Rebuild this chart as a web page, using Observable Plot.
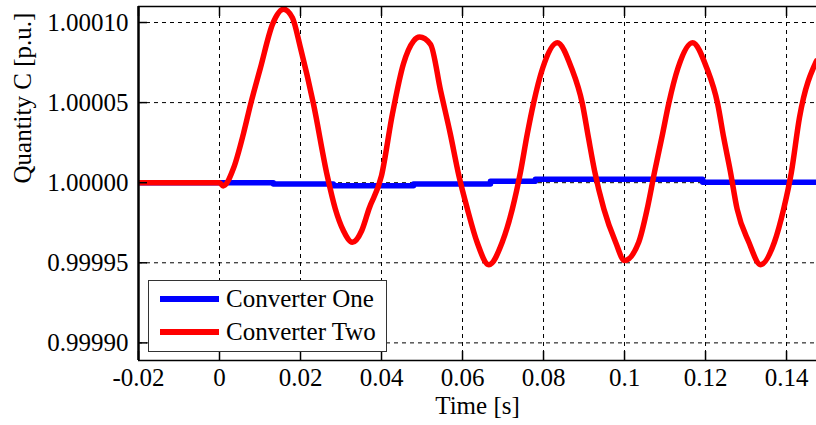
<!DOCTYPE html>
<html>
<head>
<meta charset="utf-8">
<script src="https://cdn.jsdelivr.net/npm/d3@7"></script>
<script src="https://cdn.jsdelivr.net/npm/@observablehq/plot@0.6"></script>
<style>
  html, body { margin: 0; padding: 0; background: #fff; }
  #wrap { position: relative; width: 816px; height: 425px; }
  #legend {
    position: absolute; left: 148px; top: 280px; width: 237px; height: 70px;
    border: 1.5px solid #333; background: #fff;
    font-family: "Liberation Serif", "Times New Roman", serif; font-size: 25px; color: #000;
  }
  .row { position: absolute; left: 0; display: flex; align-items: center; }
  .swatch { width: 59px; height: 5.5px; margin-left: 11px; margin-right: 7px; }
</style>
</head>
<body>
<div id="wrap"></div>
<script>
// ---- data ----
const seriesNames = ["Converter One", "Converter Two"];
const seriesColors = ["#0000ff", "#ff0000"];

const timeOne = [-0.02, 0.0, 0.0133, 0.0281, 0.0479, 0.0669, 0.078, 0.1193, 0.1474];
const valueOne = [1.0, 1.0, 0.9999992, 0.9999981, 0.9999992, 1.0000009, 1.0000022, 1.0000003, 1.0000003];

const timeTwo = [
  -0.02, 0.0, 0.0009, 0.0035, 0.0059, 0.0077, 0.0101, 0.0131, 0.0158, 0.018, 0.02, 0.0232,
  0.0266, 0.0286, 0.0306, 0.0328, 0.0351, 0.0369, 0.04,
  0.0427, 0.0454, 0.0479, 0.0494, 0.0521, 0.0546, 0.057,
  0.0591, 0.0612, 0.0636, 0.0665, 0.0698, 0.0723, 0.0743,
  0.076, 0.0775, 0.0798, 0.0834, 0.0869, 0.0896, 0.0911,
  0.0926, 0.0949, 0.0978, 0.1, 0.1035, 0.1056, 0.1074,
  0.1094, 0.1109, 0.1132, 0.1168, 0.1203, 0.123, 0.1245,
  0.1261, 0.1278, 0.1307, 0.1336, 0.137, 0.1393, 0.1412,
  0.1432, 0.1474
];
const valueTwo = [
  1.0, 1.0, 0.999998, 1.0000093, 1.0000305, 1.0000492, 1.0000716, 1.000099, 1.0001083, 1.000103, 1.0000841, 1.0000492,
  1.0000044, 0.9999836, 0.99997, 0.9999628, 0.99997, 0.9999836, 1.0000044,
  1.000043, 1.0000741, 1.0000884, 1.0000909, 1.0000864, 1.0000573, 1.0000303,
  1.0000044, 0.9999836, 0.9999628, 0.9999488, 0.9999628, 0.9999836, 1.0000065,
  1.0000305, 1.0000492, 1.0000716, 1.0000874, 1.0000716, 1.0000492, 1.000028,
  1.0000075, 0.9999836, 0.9999628, 0.9999514, 0.9999628, 0.9999836, 1.0000065,
  1.0000305, 1.0000492, 1.0000716, 1.0000874, 1.0000716, 1.0000492, 1.000028,
  1.0000075, 0.9999836, 0.9999628, 0.9999488, 0.9999628, 0.9999836, 1.0000065,
  1.0000407, 1.000076
];

const xTicks = [-0.02, 0, 0.02, 0.04, 0.06, 0.08, 0.1, 0.12, 0.14];
const yTicks = [0.9999, 0.99995, 1.0, 1.00005, 1.0001];
const xDomain = [-0.02, 0.1474];
const yDomain = [0.999889, 1.00011];
const xLabel = "Time [s]";
const yLabel = "Quantity C [p.u.]";

// ---- build ----
const one = timeOne.map((t, i) => ({t, v: valueOne[i]}));
const two = timeTwo.map((t, i) => ({t, v: valueTwo[i]}));
const fmtX = d => String(+d.toFixed(2));
const fmtY = d3.format(".5f");
const FONT = "'Liberation Serif', 'Times New Roman', serif";

const chart = Plot.plot({
  width: 816,
  height: 425,
  marginLeft: 138,
  marginRight: 0,
  marginTop: 6,
  marginBottom: 65,
  style: {fontFamily: FONT, fontSize: "25px", color: "#000", background: "#fff"},
  x: {domain: xDomain},
  y: {domain: yDomain},
  marks: [
    Plot.gridX(xTicks, {stroke: "#000", strokeOpacity: 1, strokeDasharray: "4,4", strokeWidth: 1}),
    Plot.gridY(yTicks, {stroke: "#000", strokeOpacity: 1, strokeDasharray: "4,4", strokeWidth: 1}),
    Plot.line(one, {x: "t", y: "v", stroke: seriesColors[0], strokeWidth: 5.5, curve: "step-after", clip: true}),
    Plot.line(two, {x: "t", y: "v", stroke: seriesColors[1], strokeWidth: 5.5, curve: "monotone-x", clip: true}),
    Plot.ruleY([yDomain[0]], {stroke: "#000", strokeWidth: 1.5}),
    Plot.ruleY([yDomain[1]], {stroke: "#000", strokeWidth: 1.5}),
    Plot.ruleX([xDomain[0]], {stroke: "#000", strokeWidth: 2.5}),
    Plot.axisX(xTicks, {anchor: "bottom", tickSize: -9, tickFormat: () => "", label: null, strokeWidth: 1.5}),
    Plot.axisX(xTicks, {anchor: "top", tickSize: -9, tickFormat: () => "", label: null, strokeWidth: 1.5}),
    Plot.axisY(yTicks, {anchor: "left", tickSize: -9, tickFormat: () => "", label: null, strokeWidth: 1.5}),
    Plot.axisX(xTicks, {anchor: "bottom", tickSize: 0, tickPadding: 8, tickFormat: fmtX, label: null, fontSize: 25, fill: "#000"}),
    Plot.axisY(yTicks, {anchor: "left", tickSize: 0, tickPadding: 10, tickFormat: fmtY, label: null, fontSize: 25, fill: "#000"}),
    Plot.text([xLabel], {frameAnchor: "bottom", dy: 53, fontSize: 25, fill: "#000"}),
    Plot.text([yLabel], {frameAnchor: "left", dx: -116, rotate: -90, fontSize: 25, fill: "#000"})
  ]
});

const wrap = document.getElementById("wrap");
wrap.appendChild(chart);

const legend = document.createElement("div");
legend.id = "legend";
seriesNames.forEach((name, i) => {
  const row = document.createElement("div");
  row.className = "row";
  row.style.top = (i === 0 ? 3 : 36) + "px";
  row.style.height = "30px";
  const sw = document.createElement("div");
  sw.className = "swatch";
  sw.style.background = seriesColors[i];
  const label = document.createElement("span");
  label.textContent = name;
  row.appendChild(sw);
  row.appendChild(label);
  legend.appendChild(row);
});
wrap.appendChild(legend);
</script>
</body>
</html>
